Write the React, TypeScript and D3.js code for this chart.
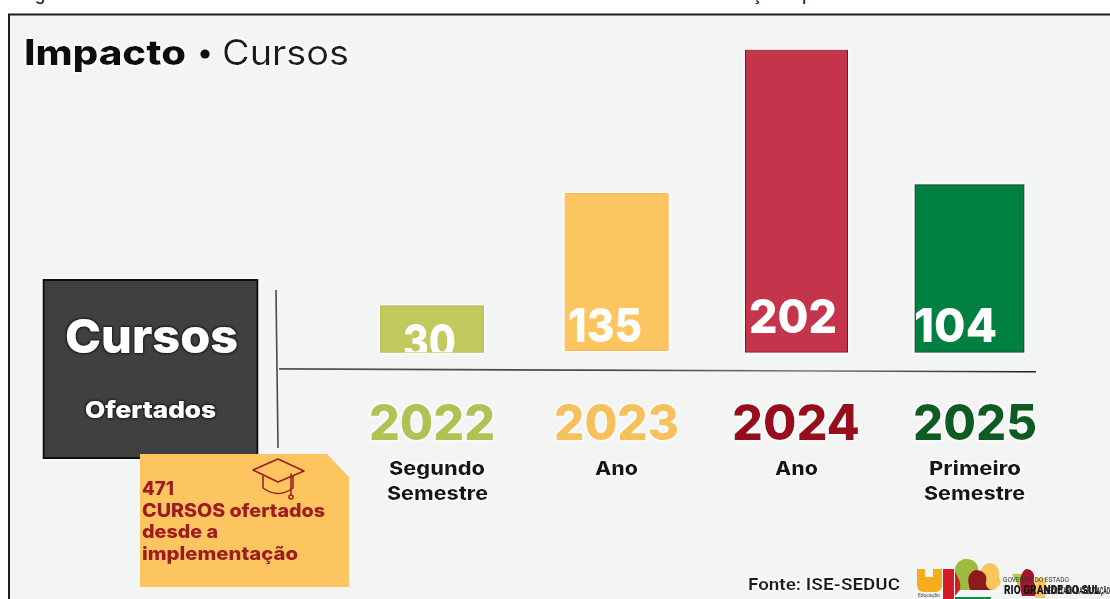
import React from "react";
import * as d3 from "d3";

// ---- data ----
const years = ["2022", "2023", "2024", "2025"];
const courseCounts = [30, 135, 202, 104];
// Heights at which the source draws the bars, in label units on the 2024 bar's scale.
// The source bars are not proportional to their printed labels (the 104 bar is taller than the 135 bar).
const barLevels = [31, 105, 202, 112];
const periodLines = [["Segundo", "Semestre"], ["Ano"], ["Ano"], ["Primeiro", "Semestre"]];
const noteLines = ["471", "CURSOS ofertados", "desde a", "implementação"];

// ---- layout and style ----
const W = 1110;
const H = 599;
const FONT = "Inter, 'Open Sans', sans-serif";
const barFill = d3.scaleOrdinal<string, string>(years, ["#c2c95f", "#fdc55f", "#c4354c", "#068040"]);
const barEdge = d3.scaleOrdinal<string, string>(years, ["#b4bd55", "#f5bd58", "#8f1024", "#0a4a24"]);
const yearFill = d3.scaleOrdinal<string, string>(years, ["#b3c153", "#f6c15a", "#98101f", "#0c5c22"]);
const barCentre = d3.scaleOrdinal<string, number>(years, [432, 616.7, 796.5, 969.5]);
const barWidth = d3.scaleOrdinal<string, number>(years, [103, 103, 102, 109]);
const barBase = d3.scaleOrdinal<string, number>(years, [352.2, 350.5, 352.2, 352.2]);
const heightOf = d3.scaleLinear().domain([0, 202]).range([0, 302]);

const countBox = d3.scaleOrdinal<string, [number, number, number]>(years, [
  [403, 53, 358],
  [568, 74, 342],
  [749, 88, 333],
  [914, 83, 342],
]);
const yearBox = d3.scaleOrdinal<string, [number, number]>(years, [
  [369, 126],
  [554, 125],
  [732, 128],
  [913, 124],
]);
const periodBox = d3.scaleOrdinal<string, [number, number][]>(years, [
  [[389, 96], [387, 101]],
  [[595, 43]],
  [[775, 43]],
  [[929, 92], [924, 101]],
]);

type TProps = {
  x: number;
  y: number;
  w?: number;
  size: number;
  weight?: number;
  fill: string;
  look?: string;
  children: React.ReactNode;
  family?: string;
};

function T({ x, y, w, size, weight = 700, fill, look = "halo", children, family = FONT }: TProps) {
  return (
    <text
      x={x}
      y={y}
      fontFamily={family}
      fontSize={size}
      fontWeight={weight}
      fill={fill}
      textLength={w}
      lengthAdjust={w ? "spacingAndGlyphs" : undefined}
      filter={`url(#${look})`}
    >
      {children}
    </text>
  );
}

export default function App() {
  return (
    <svg
      width={W}
      height={H}
      viewBox={`0 0 ${W} ${H}`}
      style={{ position: "fixed", left: 0, top: 0, background: "#fff" }}
    >
      <defs>
        <filter id="soft" x="-10%" y="-10%" width="120%" height="120%">
          <feGaussianBlur stdDeviation="0.5" />
        </filter>
        <filter id="halo" x="-15%" y="-30%" width="130%" height="160%">
          <feMorphology in="SourceAlpha" operator="dilate" radius="1" result="d" />
          <feGaussianBlur in="d" stdDeviation="1" result="b" />
          <feFlood floodColor="#ffffff" floodOpacity="0.85" />
          <feComposite in2="b" operator="in" result="glow" />
          <feGaussianBlur in="SourceGraphic" stdDeviation="0.5" result="s" />
          <feMerge>
            <feMergeNode in="glow" />
            <feMergeNode in="s" />
          </feMerge>
        </filter>
        <filter id="darkGlow" x="-15%" y="-30%" width="130%" height="160%">
          <feMorphology in="SourceAlpha" operator="dilate" radius="0.8" result="d" />
          <feGaussianBlur in="d" stdDeviation="1" result="b" />
          <feFlood floodColor="#000000" floodOpacity="0.6" />
          <feComposite in2="b" operator="in" result="glow" />
          <feGaussianBlur in="SourceGraphic" stdDeviation="0.5" result="s" />
          <feMerge>
            <feMergeNode in="glow" />
            <feMergeNode in="s" />
          </feMerge>
        </filter>
        <linearGradient id="axisFade" x1="0" x2="1" y1="0" y2="0">
          <stop offset="0" stopColor="#555" />
          <stop offset="0.45" stopColor="#444" />
          <stop offset="0.7" stopColor="#777" />
          <stop offset="1" stopColor="#222" />
        </linearGradient>
        {years.map((y, i) => (
          <clipPath id={`clip-${y}`} key={y}>
            <rect
              x={barCentre(y) - barWidth(y) / 2}
              y={barBase(y) - heightOf(barLevels[i])}
              width={barWidth(y)}
              height={heightOf(barLevels[i])}
            />
          </clipPath>
        ))}
      </defs>

      {/* clipped caption above the frame */}
      <text x={19} y={0} fontFamily="'Liberation Sans', sans-serif" fontSize={19} fill="#111">Fig</text>
      <text x={752} y={0} fontFamily="'Liberation Sans', sans-serif" fontSize={19} fill="#111">ç</text>
      <text x={802} y={0} fontFamily="'Liberation Sans', sans-serif" fontSize={19} fill="#111">p</text>

      {/* panel */}
      <rect x={9} y={14.5} width={W + 10} height={H + 10} fill="#f3f5f4" stroke="#1c1c1c" strokeWidth={2} />

      {/* title */}
      <T x={24} y={65} w={162} size={35} weight={800} fill="#0b0b0b">Impacto</T>
      <circle cx={205} cy={54} r={4.6} fill="#111" filter="url(#soft)" />
      <T x={222} y={65} w={127} size={35} weight={400} fill="#1a1a1a">Cursos</T>

      {/* left box */}
      <rect x={43.5} y={280} width={214} height={178} fill="#3f3f3f" stroke="#0c0c0c" strokeWidth={2} filter="url(#halo)" />
      <T x={65} y={353} w={173} size={47} weight={800} fill="#fff" look="darkGlow">Cursos</T>
      <T x={85} y={418} w={131} size={23} weight={800} fill="#fff" look="darkGlow">Ofertados</T>

      {/* axis lines */}
      <line x1={276} y1={290} x2={278} y2={448} stroke="#4a4a4a" strokeWidth={1.6} filter="url(#soft)" />
      <path d="M279 368L1036 371L1036 372.6L279 369.8Z" fill="url(#axisFade)" filter="url(#soft)" />

      {/* bars */}
      {years.map((y, i) => {
        const h = heightOf(barLevels[i]);
        const [lx, lw, ly] = countBox(y);
        const [yx, yw] = yearBox(y);
        return (
          <g key={y}>
            <rect
              x={barCentre(y) - barWidth(y) / 2}
              y={barBase(y) - h}
              width={barWidth(y)}
              height={h}
              fill={barFill(y)}
              stroke={barEdge(y)}
              strokeWidth={1}
              filter="url(#halo)"
            />
            <g clipPath={`url(#clip-${y})`}>
              <T x={lx} y={ly} w={lw} size={47} weight={800} fill="#fff" look="soft">{courseCounts[i]}</T>
            </g>
            <T x={yx} y={440} w={yw} size={49} weight={800} fill={yearFill(y)}>{y}</T>
            {periodLines[i].map((line, j) => (
              <T key={line} x={periodBox(y)[j][0]} y={475 + j * 24.5} w={periodBox(y)[j][1]} size={19} weight={800} fill="#151515">
                {line}
              </T>
            ))}
          </g>
        );
      })}

      {/* note */}
      <path d="M140 454H327L349 477V587H140Z" fill="#fdc55f" filter="url(#soft)" />
      <g fill="none" stroke="#9c1d20" strokeWidth={1.5} strokeLinejoin="round" strokeLinecap="round" filter="url(#soft)">
        <path d="M253 470L278 459L304 471L278 482Z" />
        <path d="M263 476V488Q278 499 293 488V476" />
        <path d="M291 474V495" />
        <circle cx={291} cy={497} r={2} />
      </g>
      {noteLines.map((line, i) => (
        <T key={line} x={142} y={495 + i * 21.7} size={18.5} weight={800} fill="#9c1d20" look="soft"
           w={[32, 183, 76, 156][i]}>
          {line}
        </T>
      ))}

      {/* source */}
      <T x={748} y={590} w={152} size={17} family="Roboto, sans-serif" fill="#1c1c1c">Fonte: ISE-SEDUC</T>

      {/* logo */}
      <g filter="url(#soft)">
        <path d="M917 569H925V577H933V569H942V585Q942 592 935 592H924Q917 592 917 585Z" fill="#f6ad1b" />
        <rect x={943} y={569} width={11} height={32} fill="#d31f2c" />
        <path d="M955 569L966 582L955 596Z" fill="#d31f2c" />
        <path d="M990 563C998 563 1000 572 999 578C1004 582 998 587 994 590H984L980 575C980 568 985 563 990 563Z" fill="#f9c65b" />
        <path d="M966 559C975 559 979 565 978 572C977 578 974 582 974 590L960 590C962 580 955 575 955 570C955 564 960 559 966 559Z" fill="#9dbb3c" />
        <path d="M975 570C984 570 988 576 986 582C985 586 989 590 992 590L970 590C968 582 966 574 975 570Z" fill="#8c1a1a" />
        <rect x={955} y={597} width={36} height={3} fill="#0a8a48" />
        <path d="M1012 574H1030L1025 585H1018Z" fill="#b7c84a" />
        <path d="M1026 569C1032 569 1035 574 1034 578C1033 584 1038 590 1042 596H1022C1020 588 1018 574 1026 569Z" fill="#a5162a" />
        <path d="M1036 578H1046L1045 598H1035Z" fill="#f9c65b" />
      </g>
      <text x={1003} y={582} fontFamily="Roboto, sans-serif" fontSize={6.5} fill="#333" filter="url(#soft)">GOVERNO DO ESTADO</text>
      <text x={1004} y={594} textLength={96} lengthAdjust="spacingAndGlyphs" fontFamily="Roboto, sans-serif" fontWeight={900} fontSize={13} fill="#151515" filter="url(#soft)">RIO GRANDE DO SUL</text>
      <text x={1045} y={594} textLength={65} lengthAdjust="spacingAndGlyphs" fontFamily="Roboto, sans-serif" fontWeight={700} fontSize={9} fill="#222" filter="url(#soft)">SECRETARIA DA EDUCAÇÃO</text>
      <text x={918} y={597} fontFamily="Roboto, sans-serif" fontSize={5} fill="#444" filter="url(#soft)">Educação</text>
    </svg>
  );
}
